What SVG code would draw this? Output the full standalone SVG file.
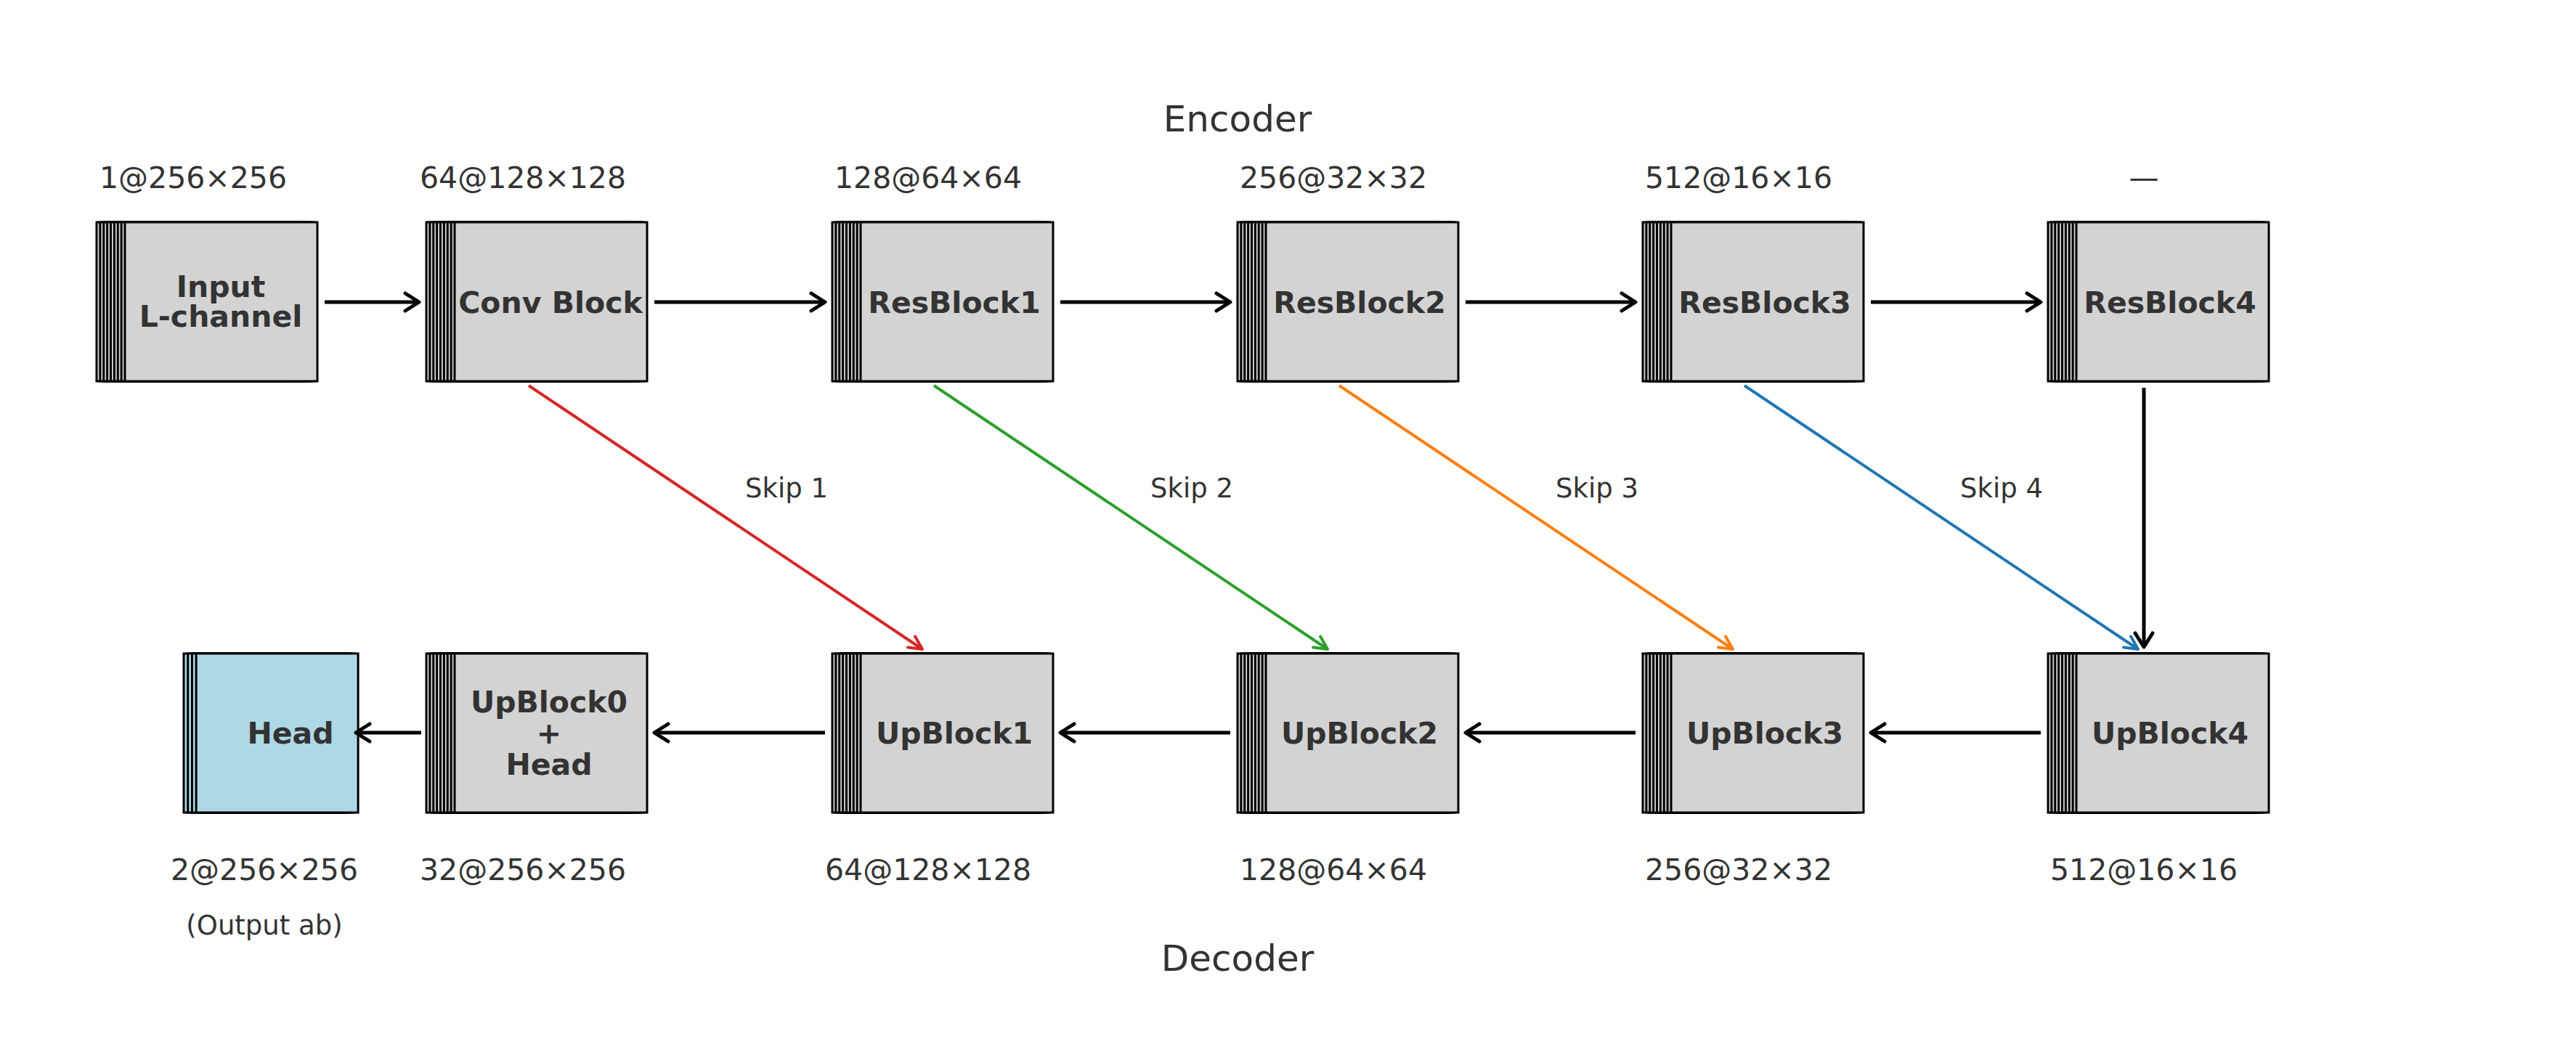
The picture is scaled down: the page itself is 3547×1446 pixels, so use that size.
<svg xmlns="http://www.w3.org/2000/svg" xmlns:xlink="http://www.w3.org/1999/xlink" width="3547" height="1446" viewBox="0 0 3547 1446">
<style>
.lay{fill:#d3d3d3;stroke:#000;stroke-width:3}
.layh{fill:#add8e6;stroke:#000;stroke-width:3}
.nt{font-family:"DejaVu Sans",sans-serif;font-weight:bold;font-size:41px;fill:#333333;text-anchor:middle}
.dl{font-family:"DejaVu Sans",sans-serif;font-size:41px;fill:#333333;text-anchor:middle}
.sl{font-family:"DejaVu Sans",sans-serif;font-size:37px;fill:#333333;text-anchor:middle}
.tt{font-family:"DejaVu Sans",sans-serif;font-size:50px;fill:#333333;text-anchor:middle}
.ab{fill:none;stroke:#000;stroke-width:5}
.sk{fill:none;stroke-width:4}
</style>
<defs>
<g id="stk">
<rect class="lay" x="0" y="0" width="265" height="219"/>
<rect class="lay" x="4.875" y="0" width="265" height="219"/>
<rect class="lay" x="9.75" y="0" width="265" height="219"/>
<rect class="lay" x="14.625" y="0" width="265" height="219"/>
<rect class="lay" x="19.5" y="0" width="265" height="219"/>
<rect class="lay" x="24.375" y="0" width="265" height="219"/>
<rect class="lay" x="29.25" y="0" width="265" height="219"/>
<rect class="lay" x="34.125" y="0" width="265" height="219"/>
<rect class="lay" x="39" y="0" width="265" height="219"/>
</g>
<g id="stkh">
<rect class="layh" x="0" y="0" width="223" height="219"/>
<rect class="layh" x="5.7" y="0" width="223" height="219"/>
<rect class="layh" x="11.4" y="0" width="223" height="219"/>
<rect class="layh" x="17.1" y="0" width="223" height="219"/>
</g>
<marker id="mk" viewBox="-24 -16 28 32" refX="0" refY="0" markerWidth="28" markerHeight="32" markerUnits="userSpaceOnUse" orient="auto" overflow="visible"><path d="M-19,-12 L0,0 L-19,12" fill="none" stroke="#000" stroke-width="5" stroke-linecap="round" stroke-linejoin="round"/></marker>
<marker id="mr" viewBox="-24 -16 28 32" refX="0" refY="0" markerWidth="28" markerHeight="32" markerUnits="userSpaceOnUse" orient="auto" overflow="visible"><path d="M-18,-9 L0,0 L-18,9" fill="none" stroke="#d62728" stroke-width="4" stroke-linecap="round" stroke-linejoin="round"/></marker>
<marker id="mg" viewBox="-24 -16 28 32" refX="0" refY="0" markerWidth="28" markerHeight="32" markerUnits="userSpaceOnUse" orient="auto" overflow="visible"><path d="M-18,-9 L0,0 L-18,9" fill="none" stroke="#2ca02c" stroke-width="4" stroke-linecap="round" stroke-linejoin="round"/></marker>
<marker id="mo" viewBox="-24 -16 28 32" refX="0" refY="0" markerWidth="28" markerHeight="32" markerUnits="userSpaceOnUse" orient="auto" overflow="visible"><path d="M-18,-9 L0,0 L-18,9" fill="none" stroke="#ff7f0e" stroke-width="4" stroke-linecap="round" stroke-linejoin="round"/></marker>
<marker id="mb" viewBox="-24 -16 28 32" refX="0" refY="0" markerWidth="28" markerHeight="32" markerUnits="userSpaceOnUse" orient="auto" overflow="visible"><path d="M-18,-9 L0,0 L-18,9" fill="none" stroke="#1f77b4" stroke-width="4" stroke-linecap="round" stroke-linejoin="round"/></marker>
</defs>
<rect x="0" y="0" width="3547" height="1446" fill="#ffffff"/>
<text class="tt" x="1704" y="181">Encoder</text>
<text class="tt" x="1704" y="1337">Decoder</text>
<g id="labels">
<text class="dl" x="266" y="259">1@256×256</text>
<text class="dl" x="720" y="259">64@128×128</text>
<text class="dl" x="1278" y="259">128@64×64</text>
<text class="dl" x="1836" y="259">256@32×32</text>
<text class="dl" x="2394" y="259">512@16×16</text>
<text class="dl" x="2952" y="259">—</text>
<text class="dl" x="364" y="1212">2@256×256</text>
<text class="sl" x="364" y="1287">(Output ab)</text>
<text class="dl" x="720" y="1212">32@256×256</text>
<text class="dl" x="1278" y="1212">64@128×128</text>
<text class="dl" x="1836" y="1212">128@64×64</text>
<text class="dl" x="2394" y="1212">256@32×32</text>
<text class="dl" x="2952" y="1212">512@16×16</text>
<text class="sl" x="1083" y="685">Skip 1</text>
<text class="sl" x="1641" y="685">Skip 2</text>
<text class="sl" x="2199" y="685">Skip 3</text>
<text class="sl" x="2756" y="685">Skip 4</text>
</g>
<g id="input"><use xlink:href="#stk" x="133" y="306"/><text class="nt" x="304" y="409">Input</text><text class="nt" x="304" y="450">L-channel</text></g>
<g id="conv"><use xlink:href="#stk" x="587" y="306"/><text class="nt" x="758" y="431">Conv Block</text></g>
<g id="res1"><use xlink:href="#stk" x="1146" y="306"/><text class="nt" x="1314" y="431">ResBlock1</text></g>
<g id="res2"><use xlink:href="#stk" x="1704" y="306"/><text class="nt" x="1872" y="431">ResBlock2</text></g>
<g id="res3"><use xlink:href="#stk" x="2262" y="306"/><text class="nt" x="2430" y="431">ResBlock3</text></g>
<g id="res4"><use xlink:href="#stk" x="2820" y="306"/><text class="nt" x="2988" y="431">ResBlock4</text></g>
<g id="head"><use xlink:href="#stkh" x="253" y="900"/><text class="nt" x="400" y="1024">Head</text></g>
<g id="up0"><use xlink:href="#stk" x="587" y="900"/><text class="nt" x="756" y="981">UpBlock0</text><text class="nt" x="756" y="1024">+</text><text class="nt" x="756" y="1067">Head</text></g>
<g id="up1"><use xlink:href="#stk" x="1146" y="900"/><text class="nt" x="1314" y="1024">UpBlock1</text></g>
<g id="up2"><use xlink:href="#stk" x="1704" y="900"/><text class="nt" x="1872" y="1024">UpBlock2</text></g>
<g id="up3"><use xlink:href="#stk" x="2262" y="900"/><text class="nt" x="2430" y="1024">UpBlock3</text></g>
<g id="up4"><use xlink:href="#stk" x="2820" y="900"/><text class="nt" x="2988" y="1024">UpBlock4</text></g>
<g id="connectors">
<line class="ab" x1="447" y1="416" x2="577" y2="416" marker-end="url(#mk)"/>
<line class="ab" x1="901" y1="416" x2="1136" y2="416" marker-end="url(#mk)"/>
<line class="ab" x1="1460" y1="416" x2="1694" y2="416" marker-end="url(#mk)"/>
<line class="ab" x1="2018" y1="416" x2="2252" y2="416" marker-end="url(#mk)"/>
<line class="ab" x1="2576" y1="416" x2="2810" y2="416" marker-end="url(#mk)"/>
<line class="ab" x1="2952" y1="534" x2="2952" y2="891" marker-end="url(#mk)"/>
<line class="ab" x1="2810" y1="1009" x2="2576" y2="1009" marker-end="url(#mk)"/>
<line class="ab" x1="2252" y1="1009" x2="2018" y2="1009" marker-end="url(#mk)"/>
<line class="ab" x1="1694" y1="1009" x2="1460" y2="1009" marker-end="url(#mk)"/>
<line class="ab" x1="1136" y1="1009" x2="901" y2="1009" marker-end="url(#mk)"/>
<line class="ab" x1="580" y1="1009" x2="490" y2="1009" marker-end="url(#mk)"/>
<line class="sk" stroke="#d62728" x1="728" y1="531" x2="1270" y2="894" marker-end="url(#mr)"/>
<line class="sk" stroke="#2ca02c" x1="1286" y1="531" x2="1828" y2="894" marker-end="url(#mg)"/>
<line class="sk" stroke="#ff7f0e" x1="1844" y1="531" x2="2386" y2="894" marker-end="url(#mo)"/>
<line class="sk" stroke="#1f77b4" x1="2402" y1="531" x2="2944" y2="894" marker-end="url(#mb)"/>
</g>
</svg>
